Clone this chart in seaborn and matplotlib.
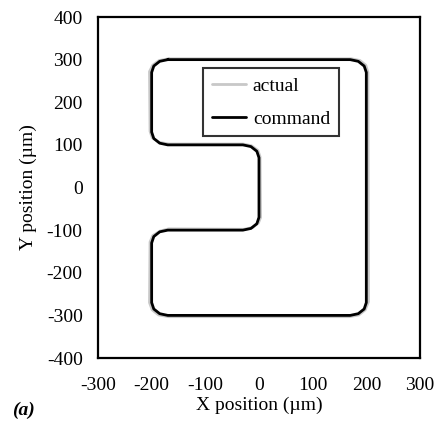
import matplotlib
matplotlib.use("Agg")
import matplotlib.pyplot as plt
import seaborn as sns
import pandas as pd

# command path (clockwise from top-left), rounded corners
cmd_x = [-170, 170, 185, 196, 200, 200, 196, 185, 170, -170, -185, -196, -200,
         -200, -196, -185, -170, -30, -15, -4, 0, 0, -4, -15, -30, -170, -185,
         -196, -200, -200, -196, -185, -170]
cmd_y = [300, 300, 296, 285, 270, -270, -285, -296, -300, -300, -296, -285, -270,
         -130, -115, -104, -100, -100, -96, -85, -70, 70, 85, 96, 100, 100, 104,
         115, 130, 270, 285, 296, 300]

# actual (measured) path, slightly off the command
act_x = [-168, 172, 188, 199, 203, 204, 198, 186, 168, -168, -187, -199, -204,
         -203, -198, -184, -168, -28, -12, -1, 3, 2, -2, -14, -30, -168, -186,
         -199, -203, -204, -198, -186, -168]
act_y = [302, 302, 298, 287, 270, -268, -287, -299, -303, -303, -299, -287, -270,
         -128, -113, -102, -97, -98, -94, -83, -70, 72, 87, 98, 102, 102, 106,
         117, 132, 272, 287, 298, 302]

x_ticks = [-300, -200, -100, 0, 100, 200, 300]
y_ticks = [-400, -300, -200, -100, 0, 100, 200, 300, 400]

sns.set_theme(style="white")
plt.rcParams["font.family"] = ["Liberation Serif", "DejaVu Serif"]
plt.rcParams["axes.unicode_minus"] = False

FS = 14

fig = plt.figure(figsize=(4.4, 4.21), dpi=100)
ax = fig.add_axes([0.2227, 0.1496, 0.7318, 0.81])

act = pd.DataFrame({"x": act_x, "y": act_y})
cmd = pd.DataFrame({"x": cmd_x, "y": cmd_y})
sns.lineplot(data=act, x="x", y="y", sort=False, estimator=None, ax=ax,
             color="#c8c8c8", lw=2.0, label="actual")
sns.lineplot(data=cmd, x="x", y="y", sort=False, estimator=None, ax=ax,
             color="black", lw=2.0, label="command")

ax.set_xlim(-300, 300)
ax.set_ylim(-400, 400)
ax.set_xticks(x_ticks)
ax.set_yticks(y_ticks)
ax.tick_params(axis="both", direction="out", length=5, width=1.5,
               labelsize=FS, colors="black")
ax.tick_params(axis="x", pad=9)
ax.tick_params(axis="y", pad=6)
for s in ax.spines.values():
    s.set_color("black")
    s.set_linewidth(1.6)
ax.set_xlabel("X position (µm)", fontsize=FS, labelpad=1.5, color="black")
ax.set_ylabel("Y position (µm)", fontsize=FS, labelpad=7, color="black")

leg = ax.legend(loc="upper left", bbox_to_anchor=(0.327, 0.85), fontsize=FS,
                frameon=True, fancybox=False, handlelength=1.75, borderpad=0.45,
                labelspacing=0.8, handletextpad=0.35, borderaxespad=0)
leg.get_frame().set_edgecolor("black")
leg.get_frame().set_linewidth(1.5)
for t in leg.get_texts():
    t.set_color("black")

fig.text(0.027, 0.015, "(a)", fontsize=FS, fontweight="bold", fontstyle="italic",
         color="black")

fig.savefig("out.png", dpi=100)
